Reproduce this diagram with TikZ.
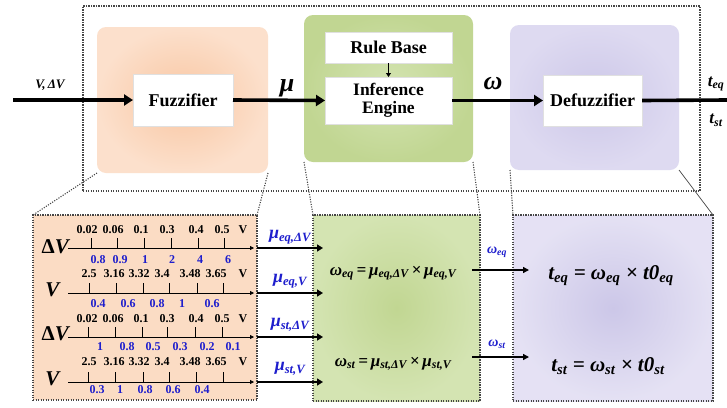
\documentclass[tikz,border=0pt]{standalone}
\usepackage{fontspec}
\setmainfont{Liberation Serif}
\usetikzlibrary{arrows.meta}
\definecolor{myblue}{RGB}{30,30,205}
\definecolor{orangeC}{RGB}{248,198,162}
\definecolor{orangeE}{RGB}{252,224,204}
\definecolor{orangeL}{RGB}{251,220,196}
\definecolor{greenC}{RGB}{193,214,146}
\definecolor{greenE}{RGB}{212,228,178}
\definecolor{purpC}{RGB}{204,199,232}
\definecolor{purpE}{RGB}{222,218,241}
\definecolor{frameC}{RGB}{70,70,70}
\begin{document}
\begin{tikzpicture}[x=1pt,y=-1pt,
  dotframe/.style={draw=frameC, line width=1.1pt, dash pattern=on 1.1pt off 1.4pt},
  bigbox/.style={rounded corners=9pt, inner sep=0pt, outer sep=0pt},
  whitebox/.style={fill=white, draw=black!12, inner sep=0pt, outer sep=0pt, align=center,
    font=\fontsize{18}{18}\selectfont\bfseries},
  mainarrow/.style={line width=3.6pt, -{Triangle[length=9pt,width=11pt]}},
  thinarrow/.style={line width=1.4pt, -{Triangle[length=6pt,width=6pt]}},
  axisarrow/.style={line width=0.8pt, -{Triangle[length=4pt,width=4pt]}},
  midarrow/.style={line width=2.6pt, -{Triangle[length=6pt,width=7pt]}},
  blk/.style={font=\fontsize{12}{12}\selectfont\bfseries, inner sep=0pt},
  blu/.style={font=\fontsize{12}{12}\selectfont\bfseries, text=myblue, inner sep=0pt},
  rowlab/.style={font=\fontsize{21}{21}\selectfont\bfseries, inner sep=0pt},
  mulab/.style={font=\fontsize{18}{18}\selectfont\bfseries\itshape, text=myblue, inner sep=0pt},
]
\fill[white] (0,0) rectangle (727,407);
\useasboundingbox (0,0) rectangle (727,407);

% ---------- top part ----------
\node[bigbox, minimum width=171pt, minimum height=146pt, inner color=orangeC, outer color=orangeE, shade] (fuzO) at (182.5,100) {};
\node[bigbox, minimum width=169pt, minimum height=147pt, inner color=greenE, outer color=greenC, shade] (infO) at (388.5,88.5) {};
\node[bigbox, minimum width=169pt, minimum height=145pt, inner color=purpC, outer color=purpE, shade] (defO) at (594.5,97.5) {};

\node[whitebox, minimum width=100pt, minimum height=52pt] (fuz) at (183,100) {Fuzzifier};
\node[whitebox, minimum width=127pt, minimum height=31pt] (rule) at (388.5,47.5) {Rule Base};
\node[whitebox, minimum width=127pt, minimum height=47pt, font=\fontsize{17.5}{18}\selectfont\bfseries] (inf) at (388.5,100.5) {Inference\\Engine};
\node[whitebox, minimum width=99pt, minimum height=51pt] (def) at (592.5,100.5) {Defuzzifier};

\node[dotframe, minimum width=617pt, minimum height=185pt, inner sep=0pt, outer sep=0pt] (frame) at (391.5,98.5) {};

\coordinate (inp) at (13,100);
\coordinate (outp) at (727,100);
\draw[mainarrow] (inp) -- (fuz.west);
\draw[mainarrow] (fuz.east) -- (inf.west);
\draw[mainarrow] (inf.east) -- (def.west);
\draw[line width=3.6pt] (def.east) -- (outp);
\draw[line width=1.2pt, -{Triangle[length=4pt,width=5pt]}] (rule.south) -- (inf.north);

\node[font=\fontsize{13}{13}\selectfont\bfseries\itshape] (vin) at (50,85) {V,\,ΔV};
\node[font=\fontsize{26}{26}\selectfont\bfseries\itshape] (mu) at (287,88) {μ};
\node[font=\fontsize{26}{26}\selectfont\bfseries\itshape] (om) at (493,84) {ω};
\node[font=\fontsize{17}{17}\selectfont\bfseries\itshape] (teq) at (716,84) {t\textsubscript{eq}};
\node[font=\fontsize{17}{17}\selectfont\bfseries\itshape] (tst) at (716,120) {t\textsubscript{st}};

% ---------- bottom boxes ----------
\node[dotframe, minimum width=224pt, minimum height=185pt, inner sep=0pt, outer sep=0pt,
  fill=orangeL] (botL) at (145,307.5) {};
\node[dotframe, minimum width=167pt, minimum height=186pt, inner sep=0pt, outer sep=0pt,
  shade, inner color=greenC, outer color=greenE] (botG) at (396.5,308) {};
\node[dotframe, minimum width=200pt, minimum height=186pt, inner sep=0pt, outer sep=0pt,
  shade, inner color=purpC, outer color=purpE!80!white] (botP) at (613,308) {};

\draw[dotframe] (fuzO.south west) -- (botL.north west);
\draw[dotframe] (fuzO.south east) -- (botL.north east);
\draw[dotframe] (infO.south west) -- (botG.north west);
\draw[dotframe] (infO.south east) -- (botG.north east);
\draw[dotframe] (defO.south west) -- (botP.north west);
\draw[draw=frameC, line width=0.7pt] (defO.south east) -- (botP.north east);

% row labels
\node[rowlab] (rl1) at (56,247) {Δ\textit{V}};
\node[rowlab] (rl2) at (53,290) {\textit{V}};
\node[rowlab] (rl3) at (56,334) {Δ\textit{V}};
\node[rowlab] (rl4) at (53,379) {\textit{V}};

% axes
\foreach \r/\y in {1/248, 2/293, 3/337, 4/382}{
  \coordinate (as\r) at (68,\y);
  \coordinate (ae\r) at (254,\y);
  \draw[axisarrow] (as\r) -- (ae\r);
}
% ticks
\foreach \x in {91,117,144,171,198,224}{ \draw[line width=0.8pt] (\x,238) -- (\x,248); }
\foreach \x in {89,116,143,169,197,223}{ \draw[line width=0.8pt] (\x,283) -- (\x,293); }
\foreach \x in {88,115,142,167,195,222}{ \draw[line width=0.8pt] (\x,327) -- (\x,337); }
\foreach \x in {88,115,143,169,196,223}{ \draw[line width=0.8pt] (\x,372) -- (\x,382); }

% black tick labels
\foreach \x/\t [count=\i] in {87/0.02, 113/0.06, 141/0.1, 167/0.3, 196/0.4, 222/0.5, 243/V}{
  \node[blk] (k1\i) at (\x,230) {\t};}
\foreach \x/\t [count=\i] in {89/2.5, 114/3.16, 139/3.32, 162/3.4, 190/3.48, 216/3.65, 243/V}{
  \node[blk] (k2\i) at (\x,274) {\t};}
\foreach \x/\t [count=\i] in {87/0.02, 113/0.06, 141/0.1, 167/0.3, 196/0.4, 222/0.5, 243/V}{
  \node[blk] (k3\i) at (\x,319) {\t};}
\foreach \x/\t [count=\i] in {89/2.5, 114/3.16, 139/3.32, 162/3.4, 190/3.48, 216/3.65, 243/V}{
  \node[blk] (k4\i) at (\x,362) {\t};}

% blue labels
\foreach \x/\t [count=\i] in {98/0.8, 120/0.9, 145/1, 172/2, 200/4, 228/6}{
  \node[blu] (b1\i) at (\x,260) {\t};}
\foreach \x/\t [count=\i] in {98/0.4, 128/0.6, 157/0.8, 182/1, 212/0.6}{
  \node[blu] (b2\i) at (\x,304) {\t};}
\foreach \x/\t [count=\i] in {100/1, 127/0.8, 153/0.5, 180/0.3, 207/0.2, 233/0.1}{
  \node[blu] (b3\i) at (\x,347) {\t};}
\foreach \x/\t [count=\i] in {97/0.3, 120/1, 145/0.8, 173/0.6, 202/0.4}{
  \node[blu] (b4\i) at (\x,390) {\t};}

% middle arrows and mu labels
\foreach \r/\y in {1/248, 2/293, 3/337, 4/382}{
  \coordinate (ms\r) at (257,\y);
  \coordinate (me\r) at (323,\y);
  \draw[midarrow] (ms\r) -- (me\r);
}
\node[mulab] (mu1) at (290,237) {μ\textsubscript{eq,ΔV}};
\node[mulab] (mu2) at (290,281) {μ\textsubscript{eq,V}};
\node[mulab] (mu3) at (290,325) {μ\textsubscript{st,ΔV}};
\node[mulab] (mu4) at (290,369) {μ\textsubscript{st,V}};

% green equations
\node[font=\fontsize{17}{17}\selectfont\bfseries\itshape, inner sep=0pt] (eqA) at (393,273)
  {ω\textsubscript{eq}\,=\,μ\textsubscript{eq,ΔV}\,×\,μ\textsubscript{eq,V}};
\node[font=\fontsize{17}{17}\selectfont\bfseries\itshape, inner sep=0pt] (eqB) at (393,364)
  {ω\textsubscript{st}\,=\,μ\textsubscript{st,ΔV}\,×\,μ\textsubscript{st,V}};

% arrows to purple
\coordinate (oa1) at (472,270);
\coordinate (ob1) at (529,270);
\coordinate (oa2) at (472,357);
\coordinate (ob2) at (529,357);
\draw[thinarrow] (oa1) -- (ob1);
\draw[thinarrow] (oa2) -- (ob2);
\node[font=\fontsize{14}{14}\selectfont\bfseries\itshape, text=myblue, inner sep=0pt] (w1) at (497,252) {ω\textsubscript{eq}};
\node[font=\fontsize{14}{14}\selectfont\bfseries\itshape, text=myblue, inner sep=0pt] (w2) at (497,344) {ω\textsubscript{st}};

% purple equations
\node[font=\fontsize{21}{21}\selectfont\bfseries\itshape, inner sep=0pt] (tA) at (611,276)
  {t\textsubscript{eq} = ω\textsubscript{eq} × t0\textsubscript{eq}};
\node[font=\fontsize{21}{21}\selectfont\bfseries\itshape, inner sep=0pt] (tB) at (608,366)
  {t\textsubscript{st} = ω\textsubscript{st} × t0\textsubscript{st}};
\end{tikzpicture}
\end{document}
